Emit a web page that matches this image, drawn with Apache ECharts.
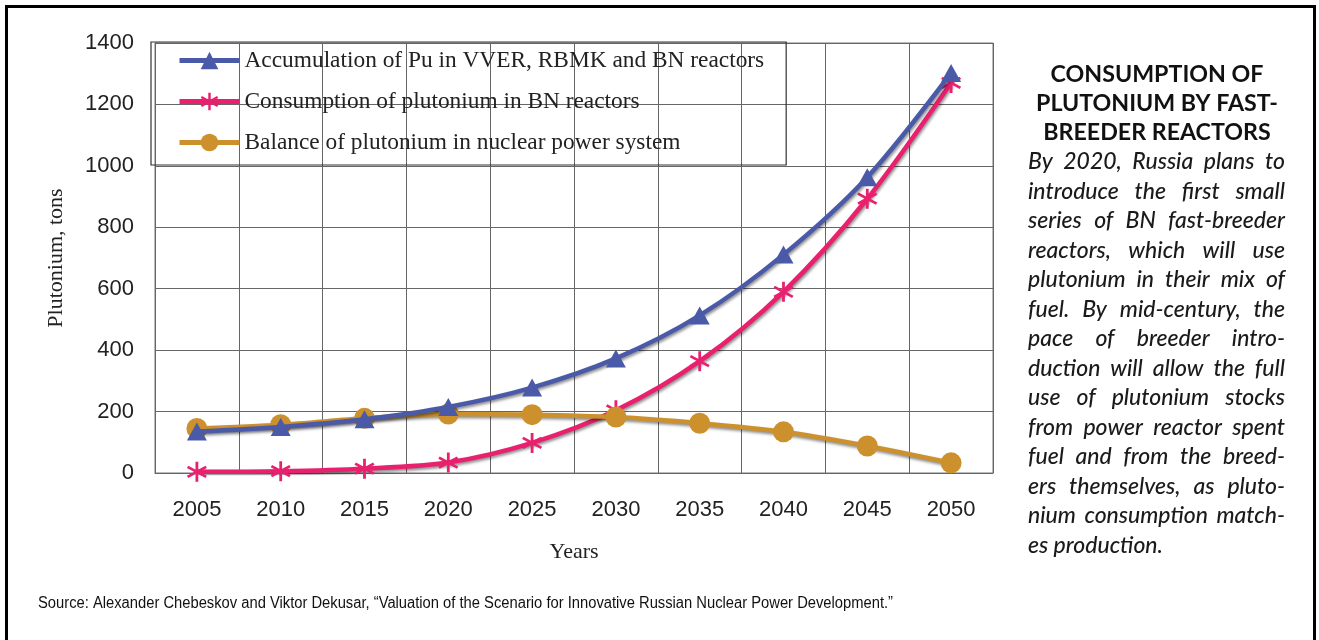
<!DOCTYPE html>
<html><head><meta charset="utf-8">
<script src="https://cdn.jsdelivr.net/npm/echarts@6/dist/echarts.min.js"></script>
<style>html,body{margin:0;padding:0;background:#fff}#c{width:1319px;height:640px}</style>
</head><body><div id="c"></div>
<script>
// ---------- DATA ----------
const years = ['2005','2010','2015','2020','2025','2030','2035','2040','2045','2050'];
const accumulation = [135, 150, 175, 215, 278, 373, 513, 711, 963, 1302];
const consumption = [4, 6, 14, 34, 98, 204, 364, 590, 893, 1270];
const balance = [145, 157, 178, 192, 190, 182, 162, 134, 88, 33];
const seriesNames = [
  'Accumulation of Pu in VVER, RBMK and BN reactors',
  'Consumption of plutonium in BN reactors',
  'Balance of plutonium in nuclear power system'
];
const yMin = 0, yMax = 1400, yStep = 200;
const yAxisTitle = 'Plutonium, tons';
const xAxisTitle = 'Years';
const titleLines = ['CONSUMPTION OF', 'PLUTONIUM BY FAST-', 'BREEDER REACTORS'];
const bodyLines = [
  'By 2020, Russia plans to',
  'introduce the first small',
  'series of BN fast-breeder',
  'reactors, which will use',
  'plutonium in their mix of',
  'fuel. By mid-century, the',
  'pace of breeder intro-',
  'duction will allow the full',
  'use of plutonium stocks',
  'from power reactor spent',
  'fuel and from the breed-',
  'ers themselves, as pluto-',
  'nium consumption match-',
  'es production.'
];
const sourceText = 'Source: Alexander Chebeskov and Viktor Dekusar, \u201cValuation of the Scenario for Innovative Russian Nuclear Power Development.\u201d';

// ---------- helpers ----------
const ctx = document.createElement('canvas').getContext('2d');
function measure(t, font){ ctx.font = font; return ctx.measureText(t).width; }
function fitSize(text, family, weight, style, target){
  const w = measure(text, style + ' ' + weight + ' 20px ' + family);
  return 20 * target / w;
}

const legendFamily = '"Liberation Serif", "Times New Roman", serif';
const legendSize = fitSize(seriesNames[0], legendFamily, 'normal', 'normal', 520);

const titleFamily = 'Lato, "Open Sans", sans-serif';
const titleSize = fitSize(titleLines[1], titleFamily, 'bold', 'normal', 242);
const bodyFamily = 'Lato, "Open Sans", sans-serif';
const bodySize = fitSize('nium consumption match-', bodyFamily, 'normal', 'italic', 250);
const bodyFont = 'italic 500 ' + bodySize.toFixed(2) + 'px ' + bodyFamily;
const srcFamily = '"Liberation Sans", Arial, sans-serif';
const srcFont = '16px ' + srcFamily;
const srcScale = 855 / measure(sourceText, srcFont);

const graphics = [];
graphics.push({type:'rect', shape:{x:6.5, y:6.5, width:1308, height:700}, style:{fill:'none', stroke:'#000', lineWidth:3}, z:100});
titleLines.forEach((t,i)=>{
  graphics.push({type:'text', x:1157, y:75 + i*28.7, style:{text:t, font:'bold ' + (titleSize*1.0).toFixed(2) + 'px ' + titleFamily, fill:'#111', textAlign:'center', align:'center', textVerticalAlign:'middle', verticalAlign:'middle'}});
});
const colL = 1028, colR = 1285;
bodyLines.forEach((line,i)=>{
  const y = 162 + i*29.5;
  const words = line.split(' ');
  if (i === bodyLines.length - 1) {
    graphics.push({type:'text', x:colL, y:y, style:{text:line, font:bodyFont, fill:'#1a1a1a', textAlign:'left', align:'left', textVerticalAlign:'middle', verticalAlign:'middle'}});
    return;
  }
  const ws = words.map(w=>measure(w, bodyFont));
  const sum = ws.reduce((a,b)=>a+b,0);
  const gap = (colR - colL - sum) / (words.length - 1);
  let x = colL;
  words.forEach((w,k)=>{
    graphics.push({type:'text', x:x, y:y, style:{text:w, font:bodyFont, fill:'#1a1a1a', textAlign:'left', align:'left', textVerticalAlign:'middle', verticalAlign:'middle'}});
    x += ws[k] + gap;
  });
});
graphics.push({type:'text', x:38, y:604, scaleX:srcScale, style:{text:sourceText, font:srcFont, fill:'#111', textAlign:'left', align:'left', textVerticalAlign:'middle', verticalAlign:'middle'}});

const asterisk = 'path://M8.7 0L11.3 0L11.3 20L8.7 20Z M19.31 13.87L18.01 16.13L0.69 6.13L1.99 3.87Z M1.99 16.13L0.69 13.87L18.01 3.87L19.31 6.13Z';
const shadow = {shadowColor:'rgba(0,0,0,0.45)', shadowBlur:3, shadowOffsetX:1, shadowOffsetY:2};

const chart = echarts.init(document.getElementById('c'), null, {renderer:'canvas'});
chart.setOption({
  animation:false,
  backgroundColor:'#fff',
  grid:{left:155, right:326, top:43, bottom:167, show:true, borderColor:'#777', borderWidth:1, backgroundColor:'transparent'},
  legend:{
    orient:'vertical', left:151, top:42,
    padding:[7, 22, 11, 26],
    itemWidth:60, itemHeight:22, itemGap:18,
    borderColor:'#333', borderWidth:1.2,
    lineStyle:{width:5},
    textStyle:{fontFamily:legendFamily, fontSize:legendSize, color:'#222'},
    data:seriesNames
  },
  xAxis:{
    type:'category', data:years, boundaryGap:true,
    axisLine:{lineStyle:{color:'#666', width:1}},
    axisTick:{show:false},
    splitLine:{show:true, interval:0, lineStyle:{color:'#666', width:1}},
    axisLabel:{fontFamily:'"Liberation Sans", Arial, sans-serif', fontSize:22, color:'#222', margin:26},
    name:xAxisTitle, nameLocation:'middle', nameGap:68,
    nameTextStyle:{fontFamily:'"Liberation Serif", serif', fontSize:22, color:'#222'}
  },
  yAxis:{
    type:'value', min:yMin, max:yMax, interval:yStep,
    axisLine:{show:true, lineStyle:{color:'#666', width:1}},
    axisTick:{show:false},
    splitLine:{show:true, lineStyle:{color:'#666', width:1}},
    axisLabel:{fontFamily:'"Liberation Sans", Arial, sans-serif', fontSize:22, color:'#222', margin:21, formatter:v=>String(v)},
    name:yAxisTitle, nameLocation:'middle', nameGap:88,
    nameTextStyle:{fontFamily:'"Liberation Serif", serif', fontSize:22, color:'#222'}
  },
  series:[
    {name:seriesNames[0], type:'line', data:accumulation, smooth:0.3, z:4,
     symbol:'triangle', symbolSize:[20,18], color:'#4a5aa8',
     lineStyle:Object.assign({width:4.5, color:'#4a5aa8'}, shadow),
     itemStyle:{color:'#4a5aa8'}},
    {name:seriesNames[1], type:'line', data:consumption, smooth:0.3, z:2,
     symbol:asterisk, symbolSize:20, color:'#e8206e',
     lineStyle:Object.assign({width:4.5, color:'#e8206e'}, shadow),
     itemStyle:{color:'#e8206e'}},
    {name:seriesNames[2], type:'line', data:balance, smooth:0.3, z:3,
     symbol:'circle', symbolSize:21, color:'#cc912c',
     lineStyle:Object.assign({width:4.5, color:'#cc912c'}, shadow),
     itemStyle:{color:'#cc912c'}}
  ],
  graphic:graphics
});
</script>
</body></html>
